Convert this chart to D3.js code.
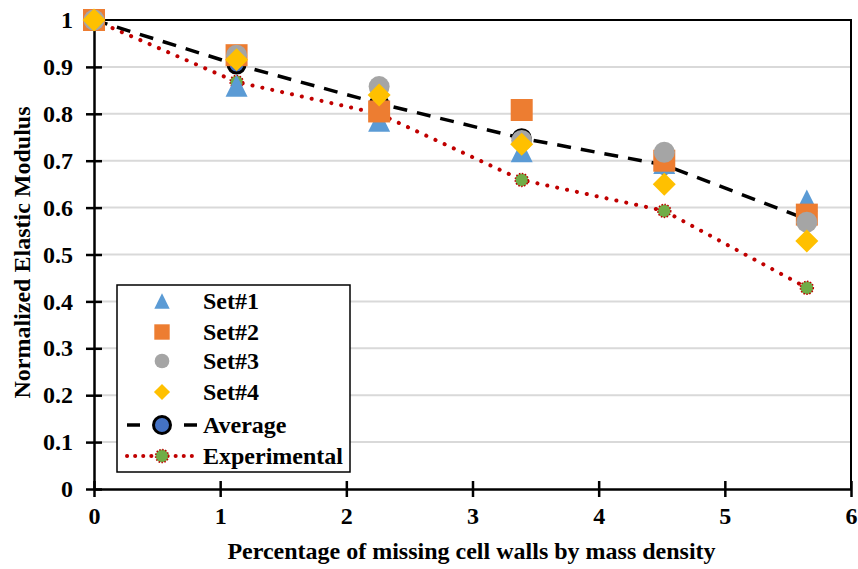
<!DOCTYPE html>
<html>
<head>
<meta charset="utf-8">
<script src="https://cdn.jsdelivr.net/npm/d3@7"></script>
<style>
  body { margin: 0; background: #fff; }
  svg text { font-family: "Liberation Serif", "Times New Roman", serif; font-weight: bold; fill: #000; }
</style>
</head>
<body>
<div id="chart"></div>
<script>
// missing cell walls (%)
var xVals = [0, 1.13, 2.26, 3.39, 4.52, 5.65];
var set1 = [1.0, 0.86, 0.785, 0.72, 0.695, 0.615];
var set2 = [1.0, 0.925, 0.805, 0.808, 0.70, 0.585];
var set3 = [1.0, 0.925, 0.858, 0.743, 0.718, 0.569];
var set4 = [1.0, 0.915, 0.84, 0.735, 0.65, 0.529];
var average = [1.0, 0.905, 0.822, 0.748, 0.691, 0.575];
var experimental = [1.0, 0.868, 0.80, 0.659, 0.593, 0.429];
var xTicks = [0, 1, 2, 3, 4, 5, 6];
var yTicks = [0, 0.1, 0.2, 0.3, 0.4, 0.5, 0.6, 0.7, 0.8, 0.9, 1];
var legendNames = ["Set#1", "Set#2", "Set#3", "Set#4", "Average", "Experimental"];

var w = 858;
var h = 569;
var margin = { left: 94, right: 7, top: 20, bottom: 80 };

var svg = d3.select("#chart").append("svg")
  .attr("width", w)
  .attr("height", h);

var xScale = d3.scaleLinear().domain([0, 6]).range([margin.left, w - margin.right]);
var yScale = d3.scaleLinear().domain([0, 1]).range([h - margin.bottom, margin.top]);

// gridlines
svg.append("g")
  .selectAll("line")
  .data(yTicks.slice(1))
  .enter()
  .append("line")
  .attr("x1", xScale(0))
  .attr("x2", xScale(6))
  .attr("y1", function (d) { return yScale(d); })
  .attr("y2", function (d) { return yScale(d); })
  .attr("stroke", "#d9d9d9")
  .attr("stroke-width", 2);

// plot frame (top and right)
svg.append("path")
  .attr("d", "M" + xScale(0) + "," + yScale(1) + "H" + xScale(6) + "V" + yScale(0))
  .attr("fill", "none")
  .attr("stroke", "#000")
  .attr("stroke-width", 2);

// axes
var xAxis = d3.axisBottom(xScale).tickValues(xTicks).tickSizeInner(8).tickSizeOuter(0).tickPadding(10).tickFormat(d3.format("d"));
var yAxis = d3.axisLeft(yScale).tickValues(yTicks).tickSizeInner(8).tickSizeOuter(0).tickPadding(13).tickFormat(function (d) { return d === 0 || d === 1 ? d : d3.format(".1f")(d); });

var gx = svg.append("g")
  .attr("transform", "translate(0," + yScale(0) + ")")
  .call(xAxis);
gx.selectAll(".tick line").attr("y1", -8).attr("stroke-width", 2.5);
gx.select(".domain").attr("stroke-width", 2.5);
gx.selectAll("text").style("font-size", "24px");

var gy = svg.append("g")
  .attr("transform", "translate(" + xScale(0) + ",0)")
  .call(yAxis);
gy.selectAll(".tick line").attr("x1", 8).attr("stroke-width", 2.5);
gy.select(".domain").attr("stroke-width", 2.5);
gy.selectAll("text").style("font-size", "24px");

// axis titles
svg.append("text")
  .attr("x", (xScale(0) + xScale(6)) / 2 - 1)
  .attr("y", 559)
  .attr("text-anchor", "middle")
  .style("font-size", "24px")
  .text("Percentage of missing cell walls by mass density");

svg.append("text")
  .attr("transform", "translate(30," + (yScale(0.5) - 2) + ") rotate(-90)")
  .attr("text-anchor", "middle")
  .style("font-size", "24px")
  .text("Normalized Elastic Modulus");

var line = d3.line()
  .x(function (d, i) { return xScale(xVals[i]); })
  .y(function (d) { return yScale(d); });

// experimental line (dotted red)
svg.append("path")
  .datum(experimental)
  .attr("d", line)
  .attr("fill", "none")
  .attr("stroke", "#c00000")
  .attr("stroke-width", 4)
  .attr("stroke-linecap", "round")
  .attr("stroke-dasharray", "0.1,10");

// average line (dashed black)
svg.append("path")
  .datum(average)
  .attr("d", line)
  .attr("fill", "none")
  .attr("stroke", "#000")
  .attr("stroke-width", 3.5)
  .attr("stroke-dasharray", "14,10");

// marker drawing helpers
function drawExp(g, x, y) {
  g.append("circle").attr("cx", x).attr("cy", y).attr("r", 6.5)
    .attr("fill", "#70ad47").attr("stroke", "#c00000").attr("stroke-width", 1.5)
    .attr("stroke-dasharray", "1.5,1.5");
}
function drawAvg(g, x, y) {
  g.append("circle").attr("cx", x).attr("cy", y).attr("r", 8.5)
    .attr("fill", "#4472c4").attr("stroke", "#000").attr("stroke-width", 3);
}
function drawSym(g, s, scale, x, y) {
  var size = s.size * scale;
  var p = g.append("path")
    .attr("fill", s.color);
  if (s.shape === "triangle") {
    var half = size / 2;
    var ht = size;
    p.attr("d", "M" + x + "," + (y - ht / 2) + "L" + (x + half) + "," + (y + ht / 2) + "L" + (x - half) + "," + (y + ht / 2) + "Z");
  } else if (s.shape === "square") {
    p.attr("d", "M" + (x - size / 2) + "," + (y - size / 2) + "h" + size + "v" + size + "h" + (-size) + "Z");
  } else if (s.shape === "circle") {
    p.attr("d", d3.arc()({ innerRadius: 0, outerRadius: size / 2, startAngle: 0, endAngle: 2 * Math.PI }))
      .attr("transform", "translate(" + x + "," + y + ")");
  } else {
    var r = size / 2;
    p.attr("d", "M" + x + "," + (y - r) + "L" + (x + r) + "," + y + "L" + x + "," + (y + r) + "L" + (x - r) + "," + y + "Z");
  }
}

var markers = svg.append("g");
experimental.forEach(function (v, i) { drawExp(markers, xScale(xVals[i]), yScale(v)); });
average.forEach(function (v, i) { drawAvg(markers, xScale(xVals[i]), yScale(v)); });

// size = full width of each marker in px
var sets = [
  { data: set1, shape: "triangle", size: 22, color: "#5b9bd5" },
  { data: set2, shape: "square", size: 22, color: "#ed7d31" },
  { data: set3, shape: "circle", size: 21, color: "#a5a5a5" },
  { data: set4, shape: "diamond", size: 23, color: "#ffc000" }
];
sets.forEach(function (s) {
  s.data.forEach(function (v, i) {
    drawSym(markers, s, 1, xScale(xVals[i]), yScale(v));
  });
});

// legend
var legend = svg.append("g");
legend.append("rect")
  .attr("x", 117).attr("y", 285)
  .attr("width", 233).attr("height", 187)
  .attr("fill", "#fff")
  .attr("stroke", "#000")
  .attr("stroke-width", 1.5);

var rowY = [301, 332, 361, 392, 425, 456];
var symX = 162;
legendNames.forEach(function (name, i) {
  var y = rowY[i];
  if (i < 4) {
    drawSym(legend, sets[i], 0.7, symX, y);
  } else if (i === 4) {
    legend.append("line").attr("x1", 127).attr("x2", 140).attr("y1", y).attr("y2", y)
      .attr("stroke", "#000").attr("stroke-width", 3.5);
    legend.append("line").attr("x1", 184).attr("x2", 197).attr("y1", y).attr("y2", y)
      .attr("stroke", "#000").attr("stroke-width", 3.5);
    drawAvg(legend, symX, y);
  } else {
    legend.append("line").attr("x1", 127).attr("x2", 197).attr("y1", y).attr("y2", y)
      .attr("stroke", "#c00000").attr("stroke-width", 4)
      .attr("stroke-linecap", "round").attr("stroke-dasharray", "0.1,8");
    drawExp(legend, symX, y);
  }
  legend.append("text")
    .attr("x", 203)
    .attr("y", y)
    .attr("dy", "0.35em")
    .style("font-size", "24px")
    .text(name);
});
</script>
</body>
</html>
